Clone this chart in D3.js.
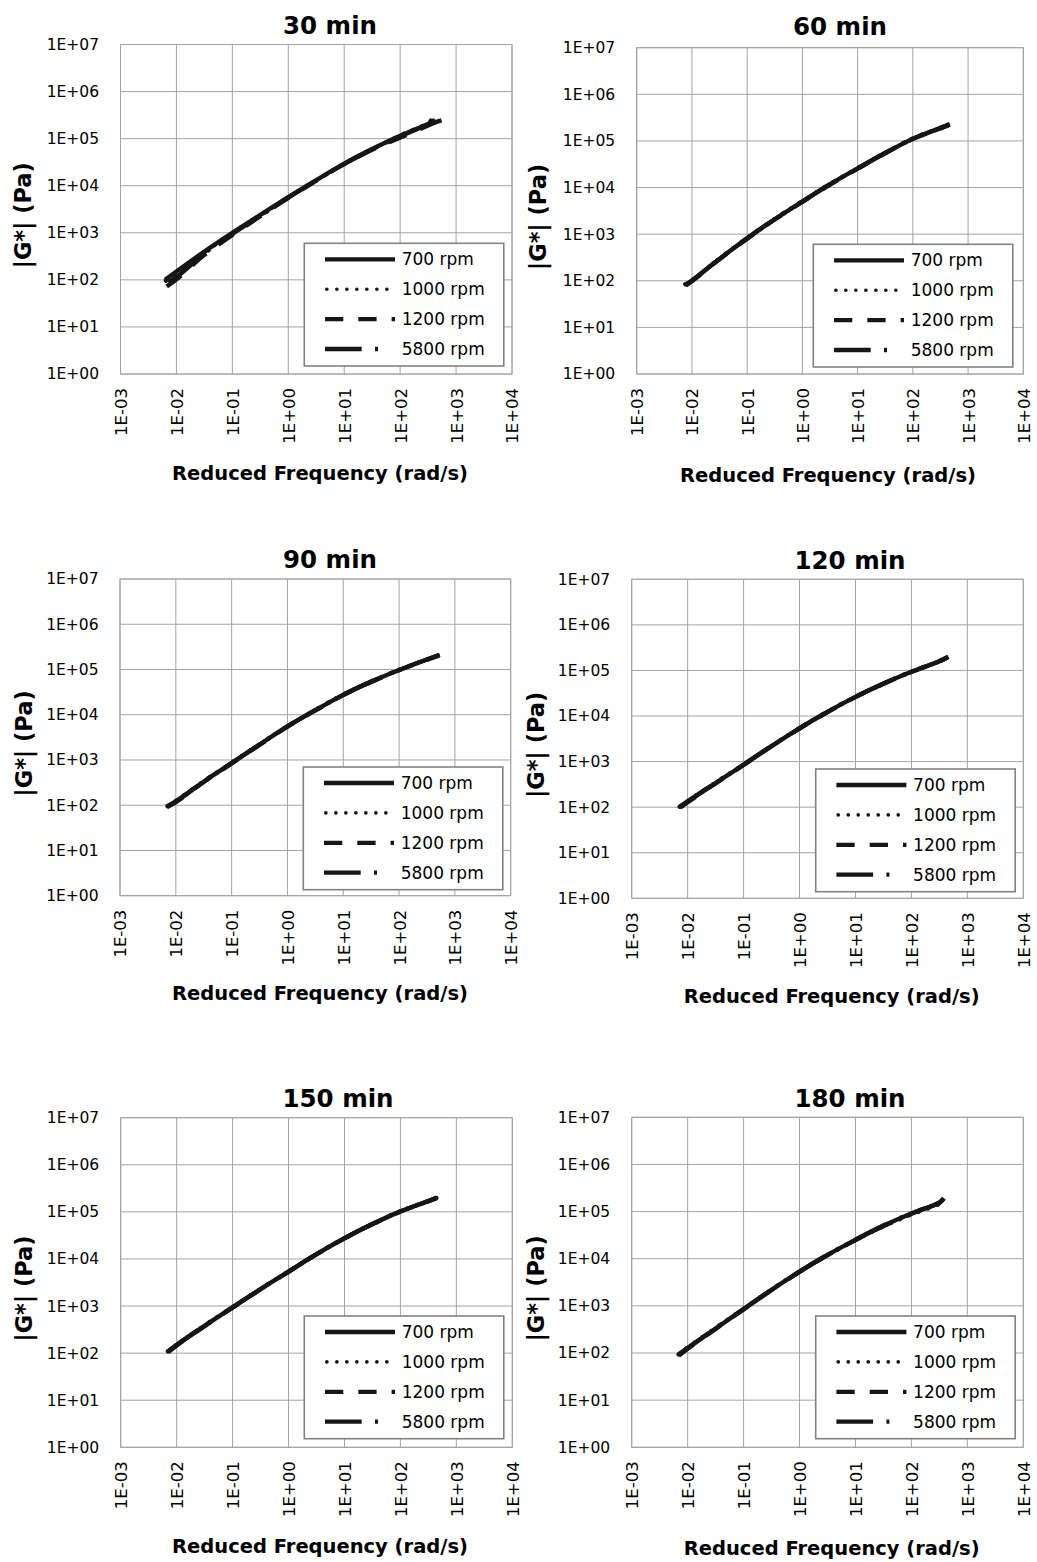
<!DOCTYPE html>
<html>
<head>
<meta charset="utf-8">
<script src="https://cdn.jsdelivr.net/npm/d3@7"></script>
<style>
  body { margin: 0; background: #fff; }
  svg { display: block; }
  text { font-family: "DejaVu Sans", "Liberation Sans", sans-serif; fill: #000; }
</style>
</head>
<body>
<svg id="chart" width="1037" height="1562"></svg>
<script>
// ---- data -------------------------------------------------------------
const panelTitles = ["30 min", "60 min", "90 min", "120 min", "150 min", "180 min"];
const seriesNames = ["700 rpm", "1000 rpm", "1200 rpm", "5800 rpm"];
const xTickValues = [1e-3, 1e-2, 1e-1, 1e0, 1e1, 1e2, 1e3, 1e4];
const yTickValues = [1e0, 1e1, 1e2, 1e3, 1e4, 1e5, 1e6, 1e7];
const xAxisTitle = "Reduced Frequency (rad/s)";
const yAxisTitle = "|G*| (Pa)";

// reduced frequency (rad/s) per series: 700, 1000, 1200, 5800 rpm
const f30 = [
  [0.0063, 0.01, 0.0316, 0.1, 0.316, 1, 3.16, 10, 31.6, 100, 316, 550],
  [0.0065, 0.01, 0.0316, 0.1, 0.316, 1, 3.16, 10, 31.6, 100, 316, 370],
  [0.0067, 0.011, 0.0316, 0.1, 0.316, 1, 3.16, 10, 31.6, 90, 316, 480],
  [0.0072, 0.011, 0.0316, 0.1, 0.316, 1, 3.16, 10, 31.6, 100, 316, 420]
];
// complex shear modulus |G*| (Pa)
const g30 = [
  [100, 150, 400, 1000, 2400, 5750, 13200, 29500, 60000, 115000, 200000, 245000],
  [96, 145, 390, 980, 2350, 5650, 13000, 29200, 59500, 117000, 215000, 258000],
  [72, 112, 340, 900, 2250, 5500, 12800, 28800, 58500, 100000, 190000, 238000],
  [88, 125, 365, 950, 2300, 5600, 12900, 29000, 59000, 112000, 205000, 250000]
];

const f60 = [
  [0.0075, 0.01, 0.0316, 0.1, 0.316, 1, 3.16, 10, 31.6, 100, 316, 468],
  [0.0076, 0.01, 0.0316, 0.1, 0.316, 1, 3.16, 10, 31.6, 100, 316, 450],
  [0.0078, 0.01, 0.0316, 0.1, 0.316, 1, 3.16, 10, 31.6, 100, 316, 440],
  [0.0077, 0.01, 0.0316, 0.1, 0.316, 1, 3.16, 10, 31.6, 100, 316, 460]
];
const g60 = [
  [81, 100, 295, 813, 2090, 5010, 11750, 25700, 55000, 112000, 190000, 229000],
  [84, 102, 300, 830, 2120, 5080, 11900, 26000, 55500, 113000, 192000, 226000],
  [80, 98, 290, 800, 2060, 4950, 11600, 25400, 54500, 110000, 186000, 218000],
  [83, 101, 298, 820, 2100, 5040, 11800, 25800, 55200, 111000, 188000, 224000]
];

const f90 = [
  [0.0069, 0.01, 0.0316, 0.1, 0.316, 1, 3.16, 10, 31.6, 100, 316, 537],
  [0.0071, 0.01, 0.0316, 0.1, 0.316, 1, 3.16, 10, 31.6, 100, 316, 520],
  [0.0070, 0.01, 0.0316, 0.1, 0.316, 1, 3.16, 10, 31.6, 100, 316, 510],
  [0.0072, 0.01, 0.0316, 0.1, 0.316, 1, 3.16, 10, 31.6, 100, 316, 530]
];
const g90 = [
  [93, 120, 331, 851, 2190, 5500, 12600, 27500, 53700, 97700, 166000, 209000],
  [95, 124, 338, 865, 2220, 5560, 12700, 27800, 54200, 98500, 167000, 206000],
  [91, 117, 325, 840, 2160, 5430, 12450, 27200, 53100, 96500, 164000, 203000],
  [96, 122, 335, 858, 2200, 5520, 12650, 27600, 53900, 98000, 166500, 207000]
];

const f120 = [
  [0.0071, 0.01, 0.0316, 0.1, 0.316, 1, 3.16, 10, 31.6, 100, 316, 457],
  [0.0072, 0.01, 0.0316, 0.1, 0.316, 1, 3.16, 10, 31.6, 100, 316, 450],
  [0.0074, 0.01, 0.0316, 0.1, 0.316, 1, 3.16, 10, 31.6, 100, 316, 440],
  [0.0073, 0.01, 0.0316, 0.1, 0.316, 1, 3.16, 10, 31.6, 100, 316, 455]
];
const g120 = [
  [100, 132, 339, 851, 2190, 5370, 12300, 26300, 51300, 93300, 158500, 199500],
  [102, 135, 345, 862, 2210, 5420, 12400, 26500, 51700, 94200, 160000, 197000],
  [98, 128, 333, 842, 2170, 5320, 12200, 26100, 50900, 92400, 157000, 193000],
  [103, 134, 342, 858, 2200, 5400, 12350, 26400, 51500, 93800, 159000, 198000]
];

const f150 = [
  [0.0069, 0.01, 0.0316, 0.1, 0.316, 1, 3.16, 10, 31.6, 100, 316, 447],
  [0.0070, 0.01, 0.0316, 0.1, 0.316, 1, 3.16, 10, 31.6, 100, 316, 440],
  [0.0071, 0.01, 0.0316, 0.1, 0.316, 1, 3.16, 10, 31.6, 100, 316, 435],
  [0.0070, 0.01, 0.0316, 0.1, 0.316, 1, 3.16, 10, 31.6, 100, 316, 445]
];
const g150 = [
  [107, 148, 380, 933, 2290, 5370, 12600, 27500, 55000, 102300, 169800, 199500],
  [109, 150, 385, 945, 2310, 5420, 12700, 27700, 55400, 103000, 170500, 198000],
  [105, 146, 375, 925, 2270, 5330, 12500, 27300, 54600, 101500, 168500, 196000],
  [108, 149, 382, 940, 2300, 5400, 12650, 27600, 55200, 102700, 169000, 198500]
];

const f180 = [
  [0.0068, 0.01, 0.0316, 0.1, 0.316, 1, 3.16, 10, 31.6, 100, 316, 380],
  [0.0069, 0.01, 0.0316, 0.1, 0.316, 1, 3.16, 10, 31.6, 100, 316, 375],
  [0.0070, 0.01, 0.0316, 0.1, 0.316, 1, 3.16, 10, 31.6, 100, 316, 372],
  [0.0069, 0.01, 0.0316, 0.1, 0.316, 1, 3.16, 10, 31.6, 100, 316, 378]
];
const g180 = [
  [91, 126, 331, 851, 2190, 5310, 12000, 25100, 50100, 91200, 154900, 190500],
  [93, 130, 340, 866, 2215, 5350, 12050, 24800, 48800, 87000, 146000, 176000],
  [89, 123, 325, 842, 2170, 5280, 11900, 24900, 49700, 90200, 153000, 186000],
  [94, 128, 336, 858, 2200, 5330, 12100, 25300, 50400, 91800, 155500, 192000]
];

const panelFreqs = [f30, f60, f90, f120, f150, f180];
const panelModuli = [g30, g60, g90, g120, g150, g180];

// ---- layout & styles --------------------------------------------------
const frames = [
  { left: 120.5, right: 512,    top: 44.5,   bottom: 374,    titleX: 330, titleY: 34,     xTitleX: 320,   xTitleY: 480,  yTitleX: 23,  legend: [304.3, 243.3] },
  { left: 636.7, right: 1023.3, top: 47.7,   bottom: 374,    titleX: 840, titleY: 35,     xTitleX: 828,   xTitleY: 481.5, yTitleX: 538, legend: [813.3, 244.3] },
  { left: 120,   right: 510.7,  top: 579,    bottom: 895.7,  titleX: 330, titleY: 568,    xTitleX: 320,   xTitleY: 1000, yTitleX: 24,  legend: [303.3, 767] },
  { left: 631.7, right: 1023.3, top: 579.3,  bottom: 898.3,  titleX: 850, titleY: 569,    xTitleX: 831.7, xTitleY: 1003, yTitleX: 536, legend: [815.7, 769] },
  { left: 120.7, right: 512.3,  top: 1117.7, bottom: 1447.3, titleX: 338, titleY: 1106.5, xTitleX: 320,   xTitleY: 1553, yTitleX: 24,  legend: [304.3, 1316] },
  { left: 631.7, right: 1023.3, top: 1117.3, bottom: 1447.3, titleX: 850, titleY: 1106.5, xTitleX: 831.7, xTitleY: 1555, yTitleX: 536, legend: [815.7, 1316] }
];

// line patterns; sample = legend line extent inside the legend box
const seriesStyles = [
  { dash: null,             cap: "butt",  sampleWidth: 4.3, sample: [20.7, 90.7] },
  { dash: "0.1 9.9",        cap: "round", sampleWidth: 3.6, sample: [22.5, 83] },
  { dash: "18.3 15",        cap: "butt",  sampleWidth: 4.3, sample: [20.7, 90.7] },
  { dash: "36.7 13.3 3 17", cap: "butt",  sampleWidth: 4.3, sample: [20.7, 90.7] }
];

const gridColor = "#a3a3a3";
const lineColor = "#161616";

const fmtExp = v => {
  const e = Math.round(Math.log10(v));
  return "1E" + (e < 0 ? "-" : "+") + String(Math.abs(e)).padStart(2, "0");
};

const svg = d3.select("#chart");

frames.forEach((fr, pi) => {
  const x = d3.scaleLog().domain([1e-3, 1e4]).range([fr.left, fr.right]);
  const y = d3.scaleLog().domain([1e0, 1e7]).range([fr.bottom, fr.top]);
  const g = svg.append("g").attr("class", "panel");

  // grid
  g.append("g").selectAll("line").data(xTickValues).join("line")
    .attr("x1", d => x(d)).attr("x2", d => x(d))
    .attr("y1", fr.top).attr("y2", fr.bottom)
    .attr("stroke", gridColor).attr("stroke-width", 1);
  g.append("g").selectAll("line").data(yTickValues).join("line")
    .attr("x1", fr.left).attr("x2", fr.right)
    .attr("y1", d => y(d)).attr("y2", d => y(d))
    .attr("stroke", gridColor).attr("stroke-width", 1);

  // y axis labels
  const yAxis = g.append("g").attr("transform", `translate(${fr.left},0)`)
    .call(d3.axisLeft(y).tickValues(yTickValues).tickFormat(fmtExp).tickSize(0).tickPadding(21.5));
  yAxis.select(".domain").remove();
  yAxis.selectAll("text").attr("font-size", 15.5).style("font-family", "DejaVu Sans, sans-serif").attr("fill", "#000");

  // x axis labels, rotated
  const xAxis = g.append("g").attr("transform", `translate(0,${fr.bottom})`)
    .call(d3.axisBottom(x).tickValues(xTickValues).tickFormat(fmtExp).tickSize(0));
  xAxis.select(".domain").remove();
  xAxis.selectAll("text")
    .attr("transform", "rotate(-90)")
    .attr("x", -14).attr("y", 0).attr("dy", "0.36em")
    .style("text-anchor", "end")
    .attr("font-size", 16.5).style("font-family", "DejaVu Sans, sans-serif").attr("fill", "#000");

  // data curves
  const line = d3.line()
    .x(d => x(d[0])).y(d => y(d[1]))
    .curve(d3.curveCatmullRom.alpha(0.5));
  const freqs = panelFreqs[pi], moduli = panelModuli[pi];
  [3, 2, 1, 0].forEach(si => {
    const pts = freqs[si].map((f, k) => [f, moduli[si][k]]);
    g.append("path").datum(pts)
      .attr("d", line)
      .attr("fill", "none")
      .attr("stroke", lineColor)
      .attr("stroke-width", 4.4)
      .attr("stroke-linecap", si === 1 ? "round" : "butt")
      .attr("stroke-linejoin", "round")
      .attr("stroke-dasharray", seriesStyles[si].dash);
  });

  // plot frame
  g.append("rect")
    .attr("x", fr.left).attr("y", fr.top)
    .attr("width", fr.right - fr.left).attr("height", fr.bottom - fr.top)
    .attr("fill", "none").attr("stroke", gridColor).attr("stroke-width", 1);

  // legend
  const [lx, ly] = fr.legend;
  const lg = g.append("g").attr("transform", `translate(${lx},${ly})`);
  lg.append("rect").attr("x", 0).attr("y", 0).attr("width", 199.5).attr("height", 122.7)
    .attr("fill", "#fff").attr("stroke", "#828282").attr("stroke-width", 1.6);
  seriesNames.forEach((name, si) => {
    const ry = 16 + si * 29.9;
    const st = seriesStyles[si];
    lg.append("line")
      .attr("x1", st.sample[0]).attr("x2", st.sample[1]).attr("y1", ry).attr("y2", ry)
      .attr("stroke", lineColor)
      .attr("stroke-width", st.sampleWidth)
      .attr("stroke-linecap", st.cap)
      .attr("stroke-dasharray", st.dash);
    lg.append("text")
      .attr("x", 97.4).attr("y", ry).attr("dy", "0.36em")
      .attr("font-size", 17)
      .text(name);
  });

  // titles
  g.append("text")
    .attr("x", fr.titleX).attr("y", fr.titleY)
    .attr("text-anchor", "middle")
    .attr("font-size", 24.5).attr("font-weight", "bold")
    .text(panelTitles[pi]);
  g.append("text")
    .attr("x", fr.xTitleX).attr("y", fr.xTitleY)
    .attr("text-anchor", "middle")
    .attr("font-size", 19.5).attr("font-weight", "bold")
    .text(xAxisTitle);
  const cy = (fr.top + fr.bottom) / 2 + 6;
  g.append("text")
    .attr("transform", `translate(${fr.yTitleX},${cy}) rotate(-90)`)
    .attr("text-anchor", "middle").attr("dy", "0.36em")
    .attr("font-size", 22.5).attr("font-weight", "bold")
    .text(yAxisTitle);
});
</script>
</body>
</html>
